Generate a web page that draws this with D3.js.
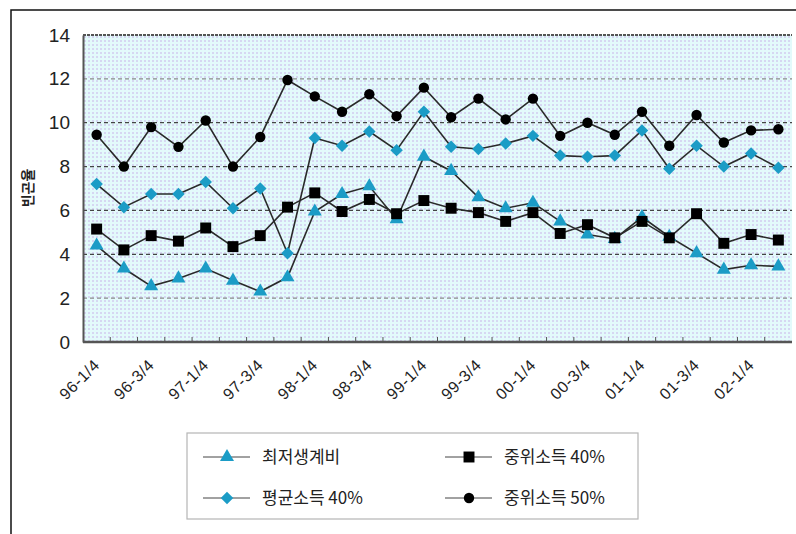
<!DOCTYPE html>
<html>
<head>
<meta charset="utf-8">
<script src="https://cdn.jsdelivr.net/npm/d3@7"></script>
<style>
body { margin: 0; background: #fff; }
svg { display: block; }
</style>
</head>
<body>
<div id="chart"></div>
<script>
// quarters 96-1/4 .. 02-2/4
const quarters = ["96-1/4","96-2/4","96-3/4","96-4/4","97-1/4","97-2/4","97-3/4","97-4/4",
  "98-1/4","98-2/4","98-3/4","98-4/4","99-1/4","99-2/4","99-3/4","99-4/4",
  "00-1/4","00-2/4","00-3/4","00-4/4","01-1/4","01-2/4","01-3/4","01-4/4","02-1/4","02-2/4"];
const shownLabels = quarters.filter((q, i) => i % 2 === 0);
const yTicks = [0, 2, 4, 6, 8, 10, 12, 14];

const minLiving = [4.4,3.35,2.55,2.9,3.35,2.8,2.3,2.95,5.95,6.75,7.1,5.6,8.45,7.8,6.6,6.1,6.35,5.5,4.9,4.7,5.7,4.8,4.05,3.3,3.5,3.45];
const mean40    = [7.2,6.15,6.75,6.75,7.3,6.1,7.0,4.05,9.3,8.95,9.6,8.75,10.5,8.9,8.8,9.05,9.4,8.5,8.45,8.5,9.65,7.9,8.95,8.0,8.6,7.95];
const median40  = [5.15,4.2,4.85,4.6,5.2,4.35,4.85,6.15,6.8,5.95,6.5,5.85,6.45,6.1,5.9,5.5,5.9,4.95,5.35,4.75,5.5,4.75,5.85,4.5,4.9,4.65];
const median50  = [9.45,8.0,9.8,8.9,10.1,8.0,9.35,11.95,11.2,10.5,11.3,10.3,11.6,10.25,11.1,10.15,11.1,9.4,10.0,9.45,10.5,8.95,10.35,9.1,9.65,9.7];

// rot: marker rotation (the diamond is a square turned 45 degrees)
const series = [
  {name: "최저생계비",   values: minLiving, shape: d3.symbolTriangle, size: 85,  rot: 0,  color: "#1b9cc6", col: 0, row: 0},
  {name: "중위소득 40%", values: median40,  shape: d3.symbolSquare,   size: 120, rot: 0,  color: "#000",    col: 1, row: 0},
  {name: "평균소득 40%", values: mean40,    shape: d3.symbolSquare,   size: 78,  rot: 45, color: "#1b9cc6", col: 0, row: 1},
  {name: "중위소득 50%", values: median50,  shape: d3.symbolCircle,   size: 85,  rot: 0,  color: "#000",    col: 1, row: 1}
];

const W = 796, H = 534;
const plot = {left: 83, right: 792, top: 35, bottom: 342};

const svg = d3.select("#chart").append("svg")
  .attr("width", W).attr("height", H);

// dotted background pattern
const defs = svg.append("defs");
const pat = defs.append("pattern").attr("id", "dots")
  .attr("width", 4).attr("height", 4).attr("patternUnits", "userSpaceOnUse");
pat.append("rect").attr("width", 4).attr("height", 4).attr("fill", "#e3fafb");
pat.append("rect").attr("x", 0).attr("y", 0).attr("width", 2).attr("height", 2).attr("fill", "#d6d7f2");

// outer frame (left and top only)
svg.append("path")
  .attr("d", `M11,${H} L11,10 L${W},10`)
  .attr("fill", "none").attr("stroke", "#111").attr("stroke-width", 1.5);

const x = d3.scaleBand().domain(quarters).range([plot.left, plot.right]);
const y = d3.scaleLinear().domain([0, 14]).range([plot.bottom, plot.top]);

svg.append("rect")
  .attr("x", plot.left).attr("y", plot.top)
  .attr("width", plot.right - plot.left).attr("height", plot.bottom - plot.top)
  .attr("fill", "url(#dots)");

// gridlines
svg.append("g").selectAll("line")
  .data(yTicks.filter(t => t > 0 && t < 14))
  .join("line")
  .attr("x1", plot.left).attr("x2", plot.right)
  .attr("y1", d => y(d)).attr("y2", d => y(d))
  .attr("stroke", d => (d === 2 || d === 12) ? "#8a8a8a" : "#444")
  .attr("stroke-width", 1.3)
  .attr("stroke-dasharray", "4,3");

// top border
svg.append("line")
  .attr("x1", plot.left).attr("x2", plot.right)
  .attr("y1", y(14)).attr("y2", y(14))
  .attr("stroke", "#555").attr("stroke-width", 2).attr("stroke-dasharray", "3,1");

// y axis
const yAxis = svg.append("g")
  .attr("transform", `translate(${plot.left},0)`)
  .call(d3.axisLeft(y).tickValues(yTicks).tickSize(0).tickPadding(13));
yAxis.select(".domain").attr("stroke", "#555").attr("stroke-width", 2);
yAxis.selectAll("text")
  .attr("font-family", "Liberation Sans, Arial, sans-serif")
  .attr("font-size", 19).attr("fill", "#222");

// x axis: ticks at band boundaries pointing up
const xg = svg.append("g");
xg.append("line")
  .attr("x1", plot.left).attr("x2", plot.right)
  .attr("y1", plot.bottom).attr("y2", plot.bottom)
  .attr("stroke", "#555").attr("stroke-width", 2.5);
xg.selectAll("line.tick")
  .data(quarters.slice(1))
  .join("line").attr("class", "tick")
  .attr("x1", d => x(d)).attr("x2", d => x(d))
  .attr("y1", plot.bottom).attr("y2", plot.bottom - 5)
  .attr("stroke", "#555").attr("stroke-width", 1);
xg.selectAll("text")
  .data(shownLabels)
  .join("text")
  .attr("transform", d => `translate(${x(d) + x.bandwidth() / 2 + 4},${plot.bottom + 24}) rotate(-45)`)
  .attr("text-anchor", "end")
  .attr("font-family", "Liberation Sans, Arial, sans-serif")
  .attr("font-size", 16).attr("fill", "#222")
  .attr("letter-spacing", 0.6)
  .text(d => d);

// y axis title
svg.append("text")
  .attr("transform", "translate(33,188) rotate(-90)")
  .attr("text-anchor", "middle")
  .attr("font-family", "Noto Sans CJK KR, sans-serif")
  .attr("font-size", 14).attr("font-weight", "bold").attr("fill", "#222")
  .text("빈곤율");

// lines and markers
const line = d3.line()
  .x((d, i) => x(quarters[i]) + x.bandwidth() / 2)
  .y(d => y(d));

series.forEach(s => {
  svg.append("path")
    .datum(s.values)
    .attr("d", line)
    .attr("fill", "none")
    .attr("stroke", "#2a2a2a")
    .attr("stroke-width", 1.6);
});
series.forEach(s => {
  svg.append("g").selectAll("path")
    .data(s.values)
    .join("path")
    .attr("transform", (d, i) => `translate(${x(quarters[i]) + x.bandwidth() / 2},${y(d)}) rotate(${s.rot})`)
    .attr("d", d3.symbol().type(s.shape).size(s.size))
    .attr("fill", s.color);
});

// legend
const lg = svg.append("g");
lg.append("rect")
  .attr("x", 187).attr("y", 433).attr("width", 451).attr("height", 86)
  .attr("fill", "#fff").attr("stroke", "#b5b5b5").attr("stroke-width", 1.2);
const colX = [203, 445], rowY = [457, 498];
series.forEach(s => {
  const x0 = colX[s.col], y0 = rowY[s.row];
  lg.append("line")
    .attr("x1", x0).attr("x2", x0 + 47).attr("y1", y0).attr("y2", y0)
    .attr("stroke", "#444").attr("stroke-width", 1);
  lg.append("path")
    .attr("transform", `translate(${x0 + 24},${y0}) rotate(${s.rot})`)
    .attr("d", d3.symbol().type(s.shape).size(s.size))
    .attr("fill", s.color);
  lg.append("text")
    .attr("x", x0 + 59).attr("y", y0 + 6)
    .attr("font-family", "Noto Sans CJK KR, sans-serif")
    .attr("font-size", 17).attr("fill", "#222")
    .text(s.name);
});
</script>
</body>
</html>
